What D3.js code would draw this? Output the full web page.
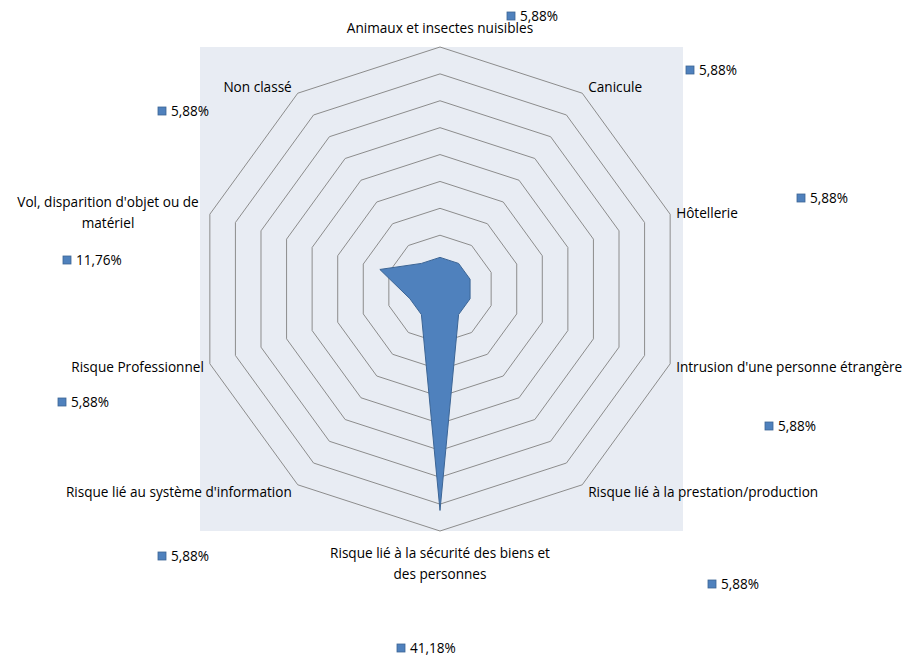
<!DOCTYPE html>
<html>
<head>
<meta charset="utf-8">
<script src="https://cdn.jsdelivr.net/npm/d3@7"></script>
<style>
  body { margin: 0; background: #fff; }
  svg text { font-family: "Open Sans", "Liberation Sans", sans-serif; font-size: 13.6px; fill: #000; }
</style>
</head>
<body>
<svg id="chart" width="913" height="657"></svg>
<script>
// categories, clockwise from the top
var categories = [
  ["Animaux et insectes nuisibles"],
  ["Canicule"],
  ["Hôtellerie"],
  ["Intrusion d'une personne étrangère"],
  ["Risque lié à la prestation/production"],
  ["Risque lié à la sécurité des biens et", "des personnes"],
  ["Risque lié au système d'information"],
  ["Risque Professionnel"],
  ["Vol, disparition d'objet ou de", "matériel"],
  ["Non classé"]
];
var values = [5.88, 5.88, 5.88, 5.88, 5.88, 41.18, 5.88, 5.88, 11.76, 5.88];
var valueLabels = ["5,88%", "5,88%", "5,88%", "5,88%", "5,88%", "41,18%", "5,88%", "5,88%", "11,76%", "5,88%"];
var ticks = [5, 10, 15, 20, 25, 30, 35, 40, 45];

// where the data labels were dragged to (offset of the marker from the centre)
var valueLabelPos = [[71, -273], [250, -219], [361, -91], [329, 137], [272, 295],
                     [-39, 359], [-278, 267], [-378, 113], [-373, -29], [-278, -178]];

var cx = 440, cy = 289, R = 242;
var svg = d3.select('#chart');

svg.append('rect')
  .attr('x', 200).attr('y', 47)
  .attr('width', 483).attr('height', 484)
  .attr('fill', '#e8ecf3');

var r = d3.scaleLinear().domain([0, 45]).range([0, R]);
var angle = d3.scalePoint().domain(d3.range(categories.length))
  .range([0, 2 * Math.PI * (categories.length - 1) / categories.length]);

function pt(i, v) {
  var a = angle(i);
  return [cx + r(v) * Math.sin(a), cy - r(v) * Math.cos(a)];
}

var g = svg.append('g');

// rings
g.selectAll('path.ring')
  .data(ticks)
  .join('path')
  .attr('class', 'ring')
  .attr('d', function(t){
    return d3.line()(categories.map(function(c, i){ return pt(i, t); })) + 'Z';
  })
  .attr('fill', 'none')
  .attr('stroke', '#8c8c8c')
  .attr('stroke-width', 1);

// series
g.append('path')
  .attr('d', d3.line()(values.map(function(v, i){ return pt(i, v); })) + 'Z')
  .attr('fill', '#4f81bd')
  .attr('stroke', '#3c6595')
  .attr('stroke-width', 1);

// category labels
categories.forEach(function(lines, i){
  var p = pt(i, 45);
  var a = angle(i);
  var sx = Math.sin(a), cyA = -Math.cos(a);
  var anchor = Math.abs(sx) < 0.01 ? 'middle' : (sx > 0 ? 'start' : 'end');
  var x = p[0] + (Math.abs(sx) < 0.01 ? 0 : (sx > 0 ? 6 : -6));
  var y = p[1];
  if (i === 0) y = p[1] - 14;
  else if (i === 5) y = p[1] + 27;
  else if (i === 8) { x = 108; y = 207; anchor = 'middle'; }
  else if (i === 2) y = p[1] + 4;
  else if (Math.abs(sx) > 0.9) y = p[1] + 8;
  else y = p[1] + (cyA < 0 ? -1 : 12);
  var t = svg.append('text')
    .attr('x', x).attr('y', y)
    .attr('text-anchor', anchor);
  lines.forEach(function(l, k){
    t.append('tspan').attr('x', x).attr('dy', k ? 21 : 0).text(l);
  });
});

// data labels
values.forEach(function(v, i){
  var mx = cx + valueLabelPos[i][0], my = cy + valueLabelPos[i][1];
  svg.append('rect')
    .attr('x', mx - 4).attr('y', my - 4)
    .attr('width', 8).attr('height', 8)
    .attr('fill', '#4f81bd')
    .attr('stroke', '#3c6595')
    .attr('stroke-width', 0.8);
  svg.append('text')
    .attr('x', mx + 9).attr('y', my + 5)
    .text(valueLabels[i]);
});
</script>
</body>
</html>
